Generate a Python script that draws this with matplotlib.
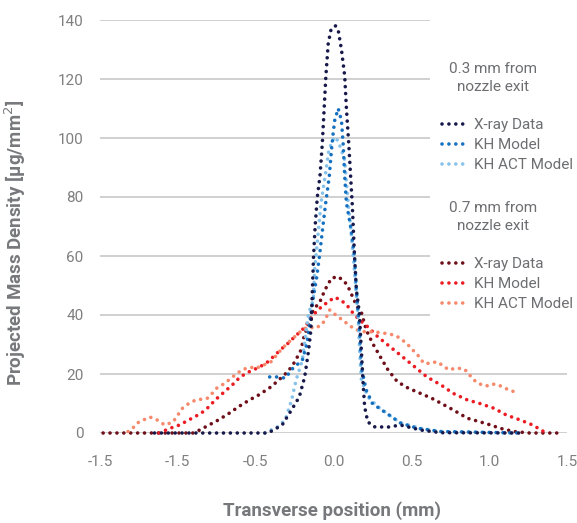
import matplotlib
matplotlib.use('Agg')
import matplotlib.pyplot as plt
from matplotlib.patches import Rectangle

plt.rcParams['font.family'] = ['Roboto', 'DejaVu Sans']

# transverse position (mm) and projected mass density, 0.3 mm from nozzle exit
xray_03_x = [-1.15, -0.42, -0.33, -0.27, -0.22, -0.185, -0.16, -0.145, -0.136, -0.128,
             -0.118, -0.104, -0.087, -0.072, -0.06, -0.049, -0.034, -0.015, 0.013, 0.03,
             0.051, 0.072, 0.083, 0.098, 0.11, 0.121, 0.135, 0.147, 0.166, 0.179,
             0.19, 0.2, 0.22, 0.26, 0.35, 0.43, 0.56, 0.69, 1.2]
xray_03_y = [0, 0, 2.7, 7.8, 12.2, 19, 28, 35, 48, 60,
             70, 80, 87, 98, 110, 121, 132, 137, 138, 136.6,
             130, 121, 110, 98, 87, 77, 60, 48.5, 40.7, 28,
             17, 8.9, 3.8, 2.1, 2.0, 2.7, 1.0, 0.1, 0]

kh_03_x = [-0.41, -0.36, -0.31, -0.26, -0.2, -0.17, -0.15, -0.13, -0.11, -0.09,
           -0.066, -0.05, -0.027, -0.013, -0.002, 0.008, 0.03, 0.051, 0.062, 0.072,
           0.083, 0.11, 0.135, 0.147, 0.166, 0.18, 0.21, 0.25, 0.31, 0.36,
           0.43, 0.54, 0.69, 1.2]
kh_03_y = [19, 19, 18.6, 22, 24.7, 30.5, 38, 46, 52, 60,
           71, 78, 87, 96, 101.7, 106, 110, 106, 98, 87,
           78, 70, 60, 48.5, 36, 22, 14.6, 10, 7.8, 6,
           3.4, 1.6, 0.5, 0]

khact_03_x = [-0.44, -0.36, -0.31, -0.29, -0.27, -0.24, -0.2, -0.18, -0.16, -0.13,
              -0.12, -0.098, -0.08, -0.06, -0.045, -0.03, 0.006, 0.03, 0.05, 0.072,
              0.083, 0.094, 0.11, 0.13, 0.145, 0.16, 0.168, 0.179, 0.22, 0.285,
              0.36, 0.43, 0.56, 0.69, 1.17]
khact_03_y = [0, 2.1, 4.4, 7.8, 11, 18, 24.7, 32.6, 40.7, 45,
              56, 68, 78, 85, 90, 96, 100.4, 99, 96, 92.5,
              85, 78, 70, 58, 48, 38, 28, 18, 12.3, 8.9,
              6, 3.4, 1.6, 0.5, 0]

# 0.7 mm from nozzle exit
xray_07_x = [-1.48, -0.9, -0.86, -0.8, -0.74, -0.67, -0.61, -0.54, -0.48, -0.4,
             -0.33, -0.29, -0.25, -0.21, -0.19, -0.16, -0.13, -0.087, -0.055, -0.013,
             0.03, 0.072, 0.104, 0.126, 0.157, 0.18, 0.21, 0.25, 0.3, 0.35,
             0.41, 0.48, 0.56, 0.63, 0.69, 0.77, 0.86, 0.94, 1.01, 1.07,
             1.16, 1.26, 1.47]
xray_07_y = [0, 0, 1, 2.7, 4.4, 6.7, 8.9, 11.2, 12.9, 15.7,
             19, 21, 24, 28, 32.6, 37, 41.7, 44.5, 48.5, 52.5,
             53, 51.3, 48.5, 45.7, 42.3, 40.7, 35, 30.5, 25.9, 21.4,
             17.4, 15.2, 13.4, 11.8, 10.1, 7.8, 5, 3.8, 2.7, 1.6,
             0.5, 0, 0]

kh_07_x = [-1.12, -1.05, -0.99, -0.93, -0.85, -0.8, -0.76, -0.7, -0.65, -0.6,
           -0.54, -0.47, -0.42, -0.33, -0.29, -0.25, -0.2, -0.16, -0.12, -0.077,
           -0.034, 0.008, 0.05, 0.094, 0.126, 0.168, 0.22, 0.285, 0.35, 0.43,
           0.52, 0.6, 0.69, 0.77, 0.86, 0.94, 1.03, 1.11, 1.2, 1.28,
           1.35]
kh_07_y = [0, 1.6, 2.7, 4.4, 6.7, 8.9, 11.2, 14, 16.3, 19,
           20.8, 22.5, 24.2, 28.7, 30.5, 32.6, 35, 37.7, 40.6, 42.8,
           44.5, 46, 45, 42.8, 40.6, 38.3, 36, 32.6, 29.8, 26.4,
           22.5, 19, 16.3, 13.4, 11.2, 10, 8.4, 6.1, 4.4, 2.7,
           0.5]

khact_07_x = [-1.32, -1.29, -1.26, -1.21, -1.18, -1.14, -1.11, -1.08, -1.03, -1.0,
              -0.97, -0.93, -0.885, -0.84, -0.81, -0.78, -0.75, -0.7, -0.66, -0.62,
              -0.58, -0.53, -0.5, -0.45, -0.4, -0.33, -0.25, -0.2, -0.16, -0.12,
              -0.077, -0.055, -0.024, 0.0, 0.03, 0.072, 0.115, 0.147, 0.2, 0.26,
              0.33, 0.39, 0.43, 0.48, 0.51, 0.55, 0.58, 0.63, 0.66, 0.7,
              0.74, 0.78, 0.83, 0.86, 0.89, 0.93, 0.98, 1.02, 1.06, 1.1,
              1.16]
khact_07_y = [0.5, 1.6, 3.4, 4.7, 5.4, 4.7, 3.5, 2.7, 3.8, 6.1,
              8.4, 10, 11.2, 11.5, 11.8, 13.4, 15.2, 16.8, 18.5, 20.2,
              21.6, 22.3, 21.9, 23, 24.2, 28.7, 32.6, 35, 36, 35.5,
              36.6, 38.3, 41.7, 40.6, 39.4, 37.7, 36, 35, 34.3, 34.3,
              33.8, 33.2, 32.1, 29.8, 28.1, 25.9, 23.6, 23.6, 24.2, 23,
              21.4, 21.9, 21.9, 20.8, 18.5, 16.8, 15.9, 16.6, 16.3, 15.2,
              14]

xticks = [-1.5, -1.0, -0.5, 0.0, 0.5, 1.0, 1.5]
xtick_labels = ['-1.5', '-1.5', '-0.5', '0.0', '0.5', '1.0', '1.5']
yticks = [0, 20, 40, 60, 80, 100, 120, 140]

gray = '#6d6e71'
dots = (0, (0.01, 1.9))

fig = plt.figure(figsize=(5.77, 5.23), dpi=100)
ax = fig.add_axes([100/577, 90/523, 467/577, 413/523])

series_03 = [
    (xray_03_x, xray_03_y, '#16194a', 'X-ray Data'),
    (kh_03_x, kh_03_y, '#1570c0', 'KH Model'),
    (khact_03_x, khact_03_y, '#86c2ea', 'KH ACT Model'),
]
series_07 = [
    (xray_07_x, xray_07_y, '#6e0f1a', 'X-ray Data'),
    (kh_07_x, kh_07_y, '#ec1c24', 'KH Model'),
    (khact_07_x, khact_07_y, '#f6896b', 'KH ACT Model'),
]

h07 = []
for x, y, c, lab in series_07:
    ln, = ax.plot(x, y, color=c, lw=2.6, ls=dots, dash_capstyle='round',
                  clip_on=False, zorder=3, label=lab)
    h07.append(ln)
h03 = []
for x, y, c, lab in series_03[::-1]:
    ln, = ax.plot(x, y, color=c, lw=2.6, ls=dots, dash_capstyle='round',
                  clip_on=False, zorder=3, label=lab)
    h03.insert(0, ln)

ax.set_xlim(-1.5, 1.5)
ax.set_ylim(0, 140)
ax.set_xticks(xticks)
ax.set_xticklabels(xtick_labels)
ax.set_yticks(yticks)
ax.tick_params(length=0, labelsize=11, labelcolor='#7f7f7f')
ax.tick_params(axis='x', pad=16)
ax.tick_params(axis='y', pad=12)
for s in ax.spines.values():
    s.set_visible(False)
ax.set_axisbelow(True)
ax.grid(axis='y', color='#c8c8c8', lw=1.2)
ax.grid(axis='x', visible=False)

# white panel behind the legend blocks hides the gridlines there
ax.add_patch(Rectangle((430/577, 200/523), 0.3, 0.7, transform=fig.transFigure,
                       facecolor='white', edgecolor='none', zorder=1))

ax.set_ylabel('Projected Mass Density [µg/mm$^2$]', fontsize=13.5,
              fontweight='bold', color='#77787b')
ax.yaxis.set_label_coords(-0.154, 0.46)
ax.set_xlabel('Transverse position (mm)', fontsize=13.5, fontweight='bold', color='#77787b')
ax.xaxis.set_label_coords(0.497, -0.165)

fig.text(493/577, 1 - 78/523, '0.3 mm from\nnozzle exit', ha='center', va='center',
         fontsize=11, color=gray, linespacing=1.4)
fig.text(493/577, 1 - 217/523, '0.7 mm from\nnozzle exit', ha='center', va='center',
         fontsize=11, color=gray, linespacing=1.4)

leg1 = fig.legend(handles=h03, loc='upper left', bbox_to_anchor=(436/577, 1 - 112/523),
                  frameon=False, fontsize=11, labelcolor=gray, handlelength=1.6,
                  handletextpad=0.5, labelspacing=0.4, borderaxespad=0)
leg2 = fig.legend(handles=h07, loc='upper left', bbox_to_anchor=(436/577, 1 - 251/523),
                  frameon=False, fontsize=11, labelcolor=gray, handlelength=1.6,
                  handletextpad=0.5, labelspacing=0.4, borderaxespad=0)

fig.savefig('out.png', dpi=100)
